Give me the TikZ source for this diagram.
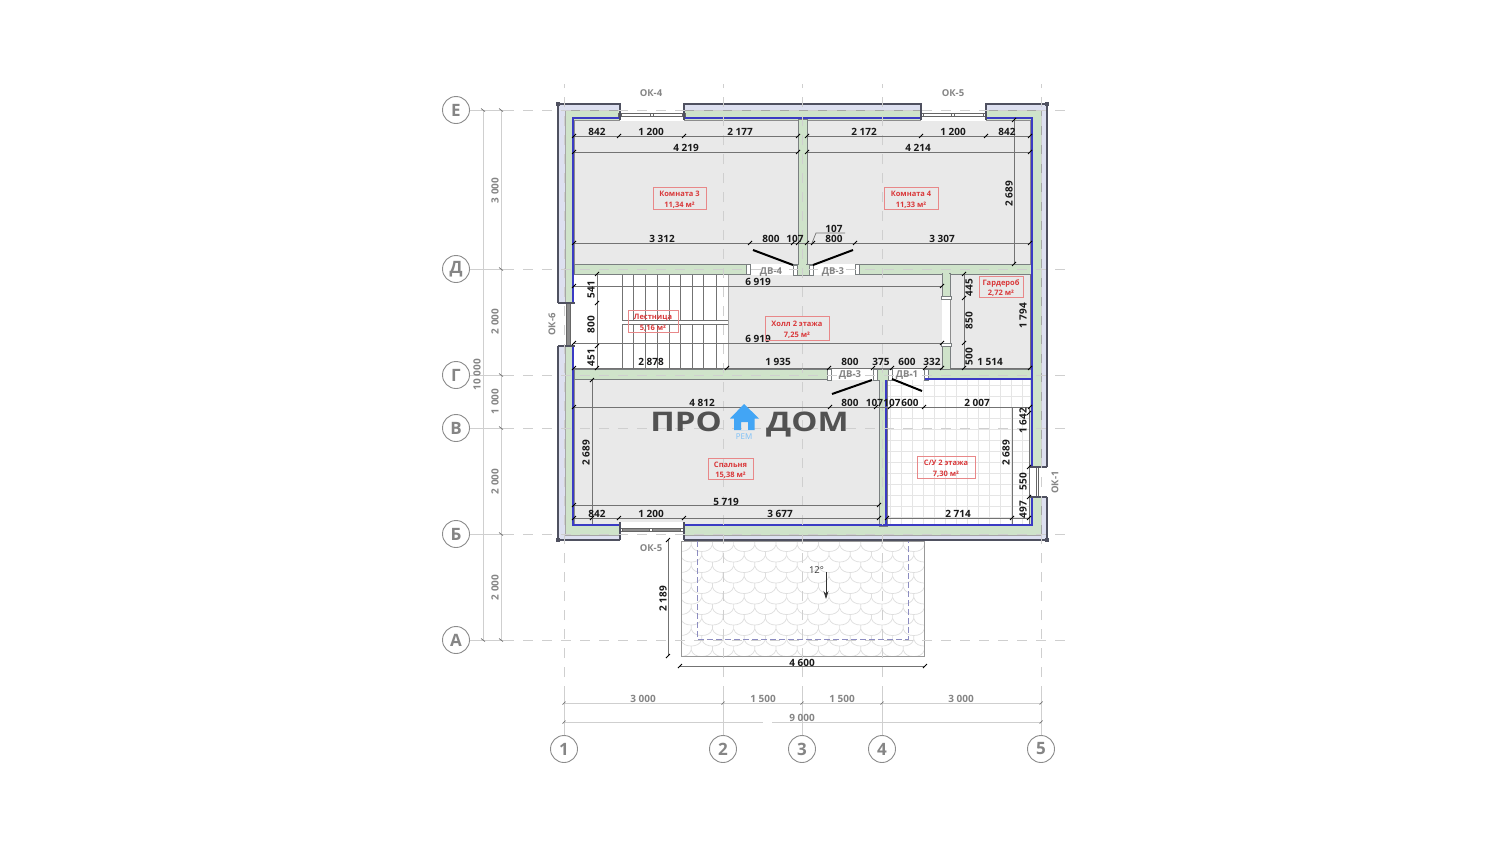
\documentclass[tikz,border=0pt]{standalone}
\usepackage{fontspec}
\setmainfont{Open Sans}
\usetikzlibrary{arrows.meta,positioning}

\definecolor{wallgreen}{HTML}{CFE3CA}
\definecolor{walledge}{HTML}{7A7F80}
\definecolor{outerband}{HTML}{DDE0F0}
\definecolor{outeredge}{HTML}{4F5160}
\definecolor{insetblue}{HTML}{3B3BC4}
\definecolor{roomgrey}{HTML}{E9E9E9}
\definecolor{axisgrey}{HTML}{CFCFCF}
\definecolor{labelgrey}{HTML}{858585}
\definecolor{labelred}{HTML}{D9383A}
\definecolor{logoblue}{HTML}{42A5F5}

\tikzset{
    roomfill/.style={fill=roomgrey, draw=black!45, line width=0.5pt},
    wallpart/.style={fill=wallgreen, draw=walledge, line width=0.9pt},
    jamb/.style={fill=white, draw=walledge, line width=0.8pt},
    gapfill/.style={fill=white, draw=none},
    glass/.style={fill=black!45, draw=black!60, line width=0.5pt},
    glassknot/.style={fill=white, draw=black!60, line width=0.5pt},
    tileline/.style={draw=black!10, line width=0.5pt},
    swing/.style={line width=2pt, black},
    dimline/.style={draw=black!55, line width=0.7pt},
    dimtickline/.style={draw=black, line width=0.8pt},
    griddim/.style={draw=axisgrey, line width=1pt},
    gridtickline/.style={draw=black!55, line width=0.7pt},
    dimtext/.style={font=\bfseries\fontsize{10}{10}\selectfont, inner sep=0pt, text=black!90, yshift=-0.7pt},
    griddimtext/.style={font=\bfseries\fontsize{10}{10}\selectfont, inner sep=0pt, text=labelgrey, yshift=-0.5pt},
    marktext/.style={font=\bfseries\fontsize{9.5}{10}\selectfont, inner sep=0pt, text=labelgrey, yshift=-0.5pt},
    roomtag/.style={draw=labelred!60, line width=0.6pt, text=labelred, align=center,
        font=\bfseries\fontsize{7.5}{10.5}\selectfont, inner sep=0pt},
    axiscircle/.style={circle, draw=black!45, line width=0.9pt, fill=white, minimum size=27pt, inner sep=0pt,
        text=labelgrey, font=\bfseries\fontsize{17}{17}\selectfont},
    axisdash/.style={draw=axisgrey, line width=0.8pt, dash pattern=on 10pt off 9pt},
    axissolid/.style={draw=axisgrey, line width=0.8pt},
    logotext/.style={font=\bfseries\fontsize{27}{27}\selectfont, inner sep=0pt, text=black!68},
}
\newcommand{\dimtick}[2]{\draw[dimtickline] ({#1-2},{#2+2}) -- ({#1+2},{#2-2});}
\newcommand{\hticks}[2]{\foreach \tx in {#2} {\dimtick{\tx}{#1}}}
\newcommand{\vticks}[2]{\foreach \ty in {#2} {\dimtick{#1}{\ty}}}
\newcommand{\tagstrut}{\rule{0pt}{9pt}}

\begin{document}
\begin{tikzpicture}[x=1pt,y=-1pt]

    	\useasboundingbox (0,0) rectangle (1500,844);
    	\fill[white] (0,0) rectangle (1500,844);

    	%-----Terrace-----
        \begin{scope}
            \clip (681,541) rectangle (924,656);
            \foreach \row in {0,...,10} {
                \pgfmathsetmacro{\rowy}{541+10.5*\row}
                \pgfmathsetmacro{\rowx}{670+10.6*mod(\row,2)}
                \foreach \col in {0,...,12} {
                    \pgfmathsetmacro{\sx}{\rowx+21.2*\col}
                    \draw[black!13, line width=0.7pt] (\sx,\rowy) -- (\sx,\rowy+4)
                        .. controls (\sx+1.5,\rowy+9) and (\sx+6,\rowy+10.5) .. (\sx+10.6,\rowy+10.5)
                        .. controls (\sx+15,\rowy+10.5) and (\sx+19.7,\rowy+9) .. (\sx+21.2,\rowy+4);
                }
            }
        \end{scope}
        \draw[black!40, line width=0.8pt] (681,541) rectangle (924,656);
        \draw[blue!45!black!45, line width=0.8pt, dash pattern=on 6pt off 3pt] (697,541) -- (697,639) -- (908,639) -- (908,541);

        %-----Outer Walls-----
        \fill[outerband] (558,104) rectangle (1047,540);
        \draw[fill=wallgreen, draw=black!35, line width=0.5pt] (565,110) rectangle (1041,535);
        \draw[outeredge, line width=1.5pt] (558,104) rectangle (1047,540);

        %-----Rooms-----
        % Room 3
        \draw[roomfill] (574,120) rectangle (798,264);
        % Room 4
        \draw[roomfill] (807,120) rectangle (1030,264);
        % Stairs
        \fill[white] (574,274) rectangle (728,369);
        % Hall
        \fill[roomgrey] (728,274) rectangle (942,369);
        % Wardrobe
        \draw[roomfill] (950,274) rectangle (1030,369);
        % Bedroom
        \draw[roomfill] (574,379) rectangle (879,524);
        % Bathroom
        \fill[white] (887,379) rectangle (1030,524);
        \foreach \tx in {890,901,...,1030} {\draw[tileline] (\tx,380) -- (\tx,524);}
        \foreach \ty in {385,396,...,524} {\draw[tileline] (887,\ty) -- (1030,\ty);}

        %-----Stairs-----
        \foreach \tx in {622,633,645,657,669,680,692,703,716} {
            \draw[black!55, line width=0.6pt] (\tx,274) -- (\tx,320);
            \draw[black!55, line width=0.6pt] (\tx,324) -- (\tx,369);
        }
        \draw[black!55, line width=0.6pt] (622,320) -- (728,320);
        \draw[black!55, line width=0.6pt] (622,324) -- (728,324);
        \draw[black!35, line width=0.5pt] (728,274) -- (728,369);

        %-----Inner Walls-----
        % Wall between rooms 3 and 4
        \draw[wallpart] (798,119) rectangle (807,265);
        % Axis D wall
        \draw[wallpart] (574,264) rectangle (749,274);
        \draw[wallpart] (856,264) rectangle (1031,274);
        \fill[gapfill] (749,264) rectangle (793,275);
        \fill[gapfill] (813,264) rectangle (856,275);
        \draw[wallpart] (793,264) rectangle (813,275);
        \fill[wallgreen] (799,262) rectangle (806,270);
        \draw[jamb] (746,264) rectangle (750,274);
        \draw[jamb] (793,265) rectangle (797,275);
        \draw[jamb] (809,265) rectangle (813,275);
        \draw[jamb] (855,264) rectangle (859,274);
        % Wardrobe wall
        \draw[wallpart] (942,273) rectangle (950,299);
        \fill[gapfill] (942,299) rectangle (950,343);
        \draw[wallpart] (942,343) rectangle (950,370);
        \fill[wallgreen] (943,270) rectangle (949,276);
        \fill[wallgreen] (943,366) rectangle (949,372);
        \draw[jamb] (941,296) rectangle (951,299);
        \draw[jamb] (941,343) rectangle (951,346);
        % Axis G wall
        \draw[wallpart] (574,369) rectangle (828,379);
        \draw[wallpart] (925,369) rectangle (1031,379);
        \fill[gapfill] (828,369) rectangle (873,380);
        \fill[gapfill] (892,369) rectangle (925,380);
        \draw[wallpart] (873,369) rectangle (892,380);
        \draw[jamb] (827,369) rectangle (831,380);
        \draw[jamb] (873,369) rectangle (877,380);
        \draw[jamb] (888,369) rectangle (892,380);
        \draw[jamb] (924,369) rectangle (928,380);
        % Wall between bedroom and bathroom
        \draw[wallpart] (879,380) rectangle (887,526);
        \fill[wallgreen] (880,377) rectangle (886,383);

        %-----Inner Lining-----
        \draw[insetblue, line width=2pt] (573,118) rectangle (1032,525);
        \draw[insetblue, line width=2pt] (925,379) -- (1031,379);
        \draw[insetblue, line width=2pt] (886,380) -- (886,525);

        %-----Windows-----
        % Window OK-4
        \fill[gapfill] (620,103) rectangle (684,121);
        \draw[glassknot] (620,113) rectangle (684,116);
        \foreach \tx in {620,652,684} {\draw[glassknot] (\tx-1.5,113) rectangle (\tx+1.5,116);}
        \draw[outeredge, line width=1.3pt] (620,103) -- (620,120);
        \draw[outeredge, line width=1.3pt] (684,103) -- (684,120);
        % Window OK-5 top
        \fill[gapfill] (921,103) rectangle (986,121);
        \draw[glassknot] (921,113) rectangle (986,116);
        \foreach \tx in {922,953,985} {\draw[glassknot] (\tx-1.5,113) rectangle (\tx+1.5,116);}
        \draw[outeredge, line width=1.3pt] (921,103) -- (921,120);
        \draw[outeredge, line width=1.3pt] (986,103) -- (986,120);
        % Window OK-5 bottom
        \fill[gapfill] (620,522) rectangle (684,541);
        \draw[glass] (620,528.5) rectangle (684,531.5);
        \foreach \tx in {621,651,682} {\draw[glassknot] (\tx-1.5,528.5) rectangle (\tx+1.5,531.5);}
        \draw[outeredge, line width=1.3pt] (620,522) -- (620,540);
        \draw[outeredge, line width=1.3pt] (684,522) -- (684,540);
        % Window OK-6
        \fill[gapfill] (557,303) rectangle (575,346);
        \draw[glass] (566.5,303) rectangle (570,346);
        \draw[outeredge, line width=1.3pt] (558,303) -- (575,303);
        \draw[outeredge, line width=1.3pt] (558,346) -- (575,346);
        % Window OK-1
        \fill[gapfill] (1030,467) rectangle (1048,497);
        \draw[glassknot] (1036,467) rectangle (1038.5,497);
        \draw[outeredge, line width=1.3pt] (1030,467) -- (1047,467);
        \draw[outeredge, line width=1.3pt] (1030,497) -- (1047,497);
        % Wall corners
        \foreach \tx/\ty in {558/104, 1047/104, 558/540, 1047/540} {
            \fill[outeredge] (\tx-2,\ty-2) rectangle (\tx+2,\ty+2);
        }

        %-----Axes-----
        \foreach \axid/\axtext/\ya in {axE/Е/110, axD/Д/269, axG/Г/375, axV/В/428, axB/Б/534, axA/А/640} {
            \node[axiscircle] (\axid) at (456,\ya) {\axtext};
            \coordinate (\axid end) at (504,\ya);
            \draw[axissolid] (\axid) -- (\axid end);
            \draw[axisdash] (\axid end) -- (1067,\ya);
        }
        \foreach \axid/\axtext/\xa in {ax1/1/564, ax2/2/723, ax3/3/802, ax4/4/882, ax5/5/1041} {
            \node[axiscircle] (\axid) at (\xa,749) {\axtext};
            \coordinate (\axid end) at (\xa,696);
            \draw[axissolid] (\axid) -- (\axid end);
            \draw[axisdash] (\axid end) -- (\xa,84);
        }

        %-----Axis Dimensions-----
        \draw[griddim] (483,110) -- (483,640);
        \draw[griddim] (501,110) -- (501,640);
        \foreach \ya in {110,640} {\draw[gridtickline] (481,\ya-1.5) -- (485,\ya+1.5);}
        \foreach \ya in {110,269,375,428,534,640} {\draw[gridtickline] (499,\ya-1.5) -- (503,\ya+1.5);}
        \draw[griddim] (564,703) -- (1041,703);
        \draw[griddim] (564,722) -- (763,722);
        \draw[griddim] (772,722) -- (1041,722);
        \foreach \xa in {564,723,802,882,1041} {\draw[gridtickline] (\xa-1.5,704.5) -- (\xa+1.5,701.5);}
        \foreach \xa in {564,1041} {\draw[gridtickline] (\xa-1.5,723.5) -- (\xa+1.5,720.5);}
        \foreach \tx/\ty/\lab [count=\i] in {643/698/3 000, 763/698/1 500, 842/698/1 500, 961/698/3 000, 802/717/9 000} {
            \node[griddimtext] (gridh\i) at (\tx,\ty) {\lab};
        }
        \foreach \tx/\ty/\lab [count=\i] in {477/374/10 000, 495/190/3 000, 495/321/2 000, 495/401/1 000, 495/481/2 000, 495/587/2 000} {
            \node[griddimtext, rotate=90] (gridv\i) at (\tx,\ty) {\lab};
        }

        %-----Room Dimensions-----
        % Horizontal lines
        \foreach \xa/\xb/\ya in {574/798/136, 807/1030/136, 574/798/152, 807/1030/152, 574/1030/243,
            574/942/286, 574/942/343, 574/942/368, 950/1030/368, 574/1030/407,
            574/879/505, 574/879/518, 887/1030/518} {
            \draw[dimline] (\xa,\ya) -- (\xb,\ya);
        }
        % Vertical lines
        \foreach \xa/\ya/\yb in {1014/120/264, 597/274/369, 964/274/369, 1030/274/369, 592/380/524, 1012/407/524, 1029/407/524, 668/540/656} {
            \draw[dimline] (\xa,\ya) -- (\xa,\yb);
        }
        \draw[dimline] (680,666) -- (925,666);
        % Leader of the door jamb
        \draw[dimline] (812,243) -- (816,233) -- (845,233);
        % Ticks
        \hticks{136}{574,619,684,798,807,921,986,1030}
        \hticks{152}{574,798,807,1030}
        \hticks{243}{574,750,793,798,807,813,855,1030}
        \hticks{286}{574,942}
        \hticks{343}{574,942}
        \hticks{368}{574,597,727,829,873,892,925,942,964,1030}
        \hticks{407}{574,830,876,890,924,1030}
        \hticks{505}{574,879}
        \hticks{518}{574,592,619,684,879,887,1012,1029}
        \hticks{666}{680,925}
        \vticks{1014}{120,264}
        \vticks{597}{274,303,346}
        \vticks{964}{274,298,343}
        \vticks{592}{380}
        \vticks{1029}{413,467,497}
        \vticks{668}{540,656}
        % Horizontal labels
        \foreach \tx/\ty/\lab [count=\i] in {
            597/131/842, 651/131/1 200, 740/131/2 177, 864/131/2 172, 953/131/1 200, 1007/131/842,
            686/147/4 219, 918/147/4 214, 662/238.5/3 312, 771/238.5/800, 795/238.5/107, 834/238.5/800,
            834/228/107, 942/238.5/3 307, 758/281/6 919, 758/338/6 919, 651/361/2 878, 778/361/1 935,
            850/361/800, 881/361/375, 907/361/600, 932/361/332, 990/361/1 514,
            702/402/4 812, 850/402/800, 874.5/402/107, 892/402/107, 910/402/600, 977/402/2 007,
            726/501/5 719, 597/513/842, 651/513/1 200, 780/513/3 677, 958/513/2 714, 802/662/4 600} {
            \node[dimtext] (dimh\i) at (\tx,\ty) {\lab};
        }
        % Vertical labels
        \foreach \tx/\ty/\lab [count=\i] in {
            1009/193/2 689, 591/289/541, 591/324/800, 591/357/451, 969/287/445, 969/320/850, 969/356/500,
            1023/315/1 794, 586/452/2 689, 1006/452/2 689, 1023/420/1 642, 1023/481/550, 1023/509/497, 663/598/2 189} {
            \node[dimtext, rotate=90] (dimv\i) at (\tx,\ty) {\lab};
        }

        %-----Doors-----
        \draw[swing] (753,250) -- (793,265);
        \draw[swing] (813,265) -- (853,250);
        \draw[swing] (872,380) -- (832,394);
        \draw[swing] (892,379) -- (922,391);
        \node[marktext] (dv4) at (771,271.5) {ДВ-4};
        \node[marktext] (dv3a) at (833,271.5) {ДВ-3};
        \node[marktext] (dv3b) at (850,374.5) {ДВ-3};
        \node[marktext] (dv1) at (907,374.5) {ДВ-1};

        %-----Window Marks-----
        \node[marktext] (ok4) at (651,93) {ОК-4};
        \node[marktext] (ok5a) at (953,93) {ОК-5};
        \node[marktext] (ok5b) at (651,548) {ОК-5};
        \node[marktext, rotate=90] (ok6) at (552,324) {ОК-6};
        \node[marktext, rotate=90] (ok1) at (1055,482) {ОК-1};

        %-----Room Tags-----
        \node[roomtag, minimum width=53pt, minimum height=22pt] (room3) at (679.5,198) {\tagstrut Комната 3\\11,34 м²};
        \node[roomtag, minimum width=54pt, minimum height=22pt] (room4) at (911,198) {\tagstrut Комната 4\\11,33 м²};
        \node[roomtag, minimum width=44pt, minimum height=21pt] (wardrobe) at (1001,286.5) {\tagstrut Гардероб\\2,72 м²};
        \node[roomtag, minimum width=50pt, minimum height=22pt] (stairs) at (653,321) {\tagstrut Лестница\\5,16 м²};
        \node[roomtag, minimum width=64pt, minimum height=24pt] (hall) at (797,328) {\tagstrut Холл 2 этажа\\7,25 м²};
        \node[roomtag, minimum width=45pt, minimum height=21pt] (bedroom) at (730.5,468.5) {\tagstrut Спальня\\15,38 м²};
        \node[roomtag, minimum width=58pt, minimum height=22pt] (bath) at (946,467) {\tagstrut С/У 2 этажа\\7,30 м²};

        %-----Roof Slope-----
        \node[inner sep=0pt, font=\fontsize{9.5}{10}\selectfont, text=black!80] (slope) at (816.5,570) {12°};
        \coordinate (slopetail) at (826,572);
        \coordinate (slopehead) at (826,599);
        \draw[-{Stealth[length=8pt,width=5pt]}, black!80, line width=0.7pt] (slopetail) -- (slopehead);

        %-----Logo-----
        \node[logotext, anchor=base east] (logoleft) at (722,431) {\scalebox{1.22}[1]{ПРО}};
        \node[logotext, anchor=base west] (logoright) at (766,431) {\scalebox{1.22}[1]{ДОМ}};
        \fill[logoblue, even odd rule] (744,404) -- (759,418.5) -- (754.5,418.5) -- (754.5,430) -- (734,430) -- (734,418.5) -- (730,418.5) -- cycle
            (741,422) rectangle (748,430);
        \node[inner sep=0pt, font=\fontsize{8}{8}\selectfont, text=logoblue!70] (logorem) at (744,437) {РЕМ};

\end{tikzpicture}
\end{document}
